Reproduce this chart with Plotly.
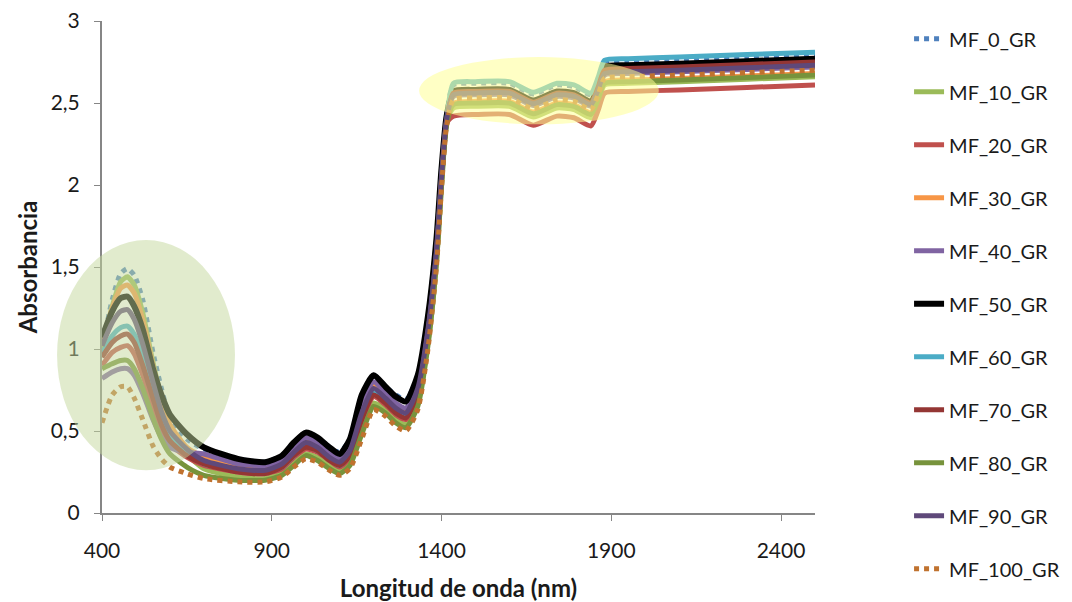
import plotly.graph_objects as go

wavelength = [400, 430, 455, 475, 495, 520, 550, 575, 600, 650, 700,
              800, 880, 930, 965, 1000, 1035, 1070, 1100, 1130, 1165, 1200, 1235, 1265, 1295, 1330, 1360, 1385, 1400, 1415,
              1435, 1500, 1600, 1670, 1740, 1790, 1840, 1862, 1880, 1950, 2100, 2300, 2500]

series_names = ["MF_0_GR", "MF_10_GR", "MF_20_GR", "MF_30_GR", "MF_40_GR", "MF_50_GR",
                "MF_60_GR", "MF_70_GR", "MF_80_GR", "MF_90_GR", "MF_100_GR"]

mf_0 = [1.00, 1.30, 1.46, 1.49, 1.45, 1.30, 0.98, 0.76, 0.58, 0.45, 0.39,
        0.33, 0.31, 0.35, 0.43, 0.49, 0.46, 0.40, 0.37, 0.45, 0.71, 0.84, 0.77, 0.72, 0.69, 0.83, 1.19, 1.66, 2.09, 2.42,
        2.61, 2.62, 2.62, 2.555, 2.61, 2.60, 2.55, 2.645, 2.74, 2.75, 2.76, 2.775, 2.79]
mf_10 = [1.00, 1.26, 1.41, 1.44, 1.39, 1.22, 0.92, 0.70, 0.52, 0.36, 0.27,
         0.22, 0.21, 0.25, 0.31, 0.36, 0.34, 0.29, 0.26, 0.31, 0.50, 0.67, 0.63, 0.57, 0.54, 0.67, 1.04, 1.53, 2.00, 2.37,
         2.47, 2.48, 2.48, 2.415, 2.47, 2.46, 2.41, 2.51, 2.61, 2.62, 2.63, 2.645, 2.66]
mf_20 = [0.90, 0.98, 1.01, 1.02, 0.97, 0.84, 0.65, 0.51, 0.42, 0.34, 0.29,
         0.25, 0.24, 0.27, 0.34, 0.39, 0.37, 0.32, 0.28, 0.34, 0.56, 0.71, 0.66, 0.60, 0.57, 0.71, 1.08, 1.57, 2.03, 2.38,
         2.42, 2.43, 2.43, 2.365, 2.42, 2.41, 2.36, 2.46, 2.56, 2.57, 2.58, 2.595, 2.61]
mf_30 = [1.02, 1.25, 1.37, 1.39, 1.34, 1.18, 0.90, 0.70, 0.54, 0.40, 0.34,
         0.29, 0.27, 0.31, 0.38, 0.44, 0.41, 0.36, 0.32, 0.40, 0.64, 0.78, 0.72, 0.66, 0.63, 0.78, 1.14, 1.62, 2.06, 2.40,
         2.50, 2.51, 2.51, 2.445, 2.50, 2.49, 2.44, 2.535, 2.63, 2.64, 2.65, 2.665, 2.68]
mf_40 = [0.82, 0.86, 0.88, 0.88, 0.84, 0.73, 0.57, 0.46, 0.40, 0.37, 0.36,
         0.30, 0.29, 0.32, 0.40, 0.46, 0.43, 0.37, 0.33, 0.41, 0.67, 0.80, 0.73, 0.67, 0.64, 0.80, 1.16, 1.64, 2.08, 2.41,
         2.54, 2.55, 2.55, 2.485, 2.54, 2.53, 2.48, 2.575, 2.67, 2.68, 2.69, 2.705, 2.72]
mf_50 = [1.07, 1.23, 1.31, 1.32, 1.26, 1.12, 0.88, 0.72, 0.60, 0.48, 0.40,
         0.33, 0.31, 0.35, 0.43, 0.49, 0.46, 0.40, 0.36, 0.45, 0.72, 0.84, 0.77, 0.71, 0.68, 0.84, 1.20, 1.67, 2.10, 2.42,
         2.57, 2.58, 2.58, 2.515, 2.57, 2.56, 2.51, 2.615, 2.72, 2.73, 2.74, 2.755, 2.77]
mf_60 = [0.97, 1.08, 1.13, 1.14, 1.09, 0.95, 0.73, 0.57, 0.46, 0.36, 0.30,
         0.26, 0.25, 0.28, 0.35, 0.41, 0.38, 0.33, 0.29, 0.36, 0.58, 0.73, 0.68, 0.62, 0.59, 0.73, 1.10, 1.58, 2.04, 2.39,
         2.62, 2.63, 2.63, 2.565, 2.62, 2.61, 2.56, 2.66, 2.76, 2.77, 2.78, 2.795, 2.81]
mf_70 = [0.95, 1.04, 1.08, 1.09, 1.04, 0.90, 0.70, 0.54, 0.44, 0.35, 0.30,
         0.25, 0.24, 0.28, 0.35, 0.40, 0.38, 0.32, 0.29, 0.35, 0.57, 0.72, 0.67, 0.61, 0.58, 0.72, 1.09, 1.58, 2.03, 2.39,
         2.56, 2.57, 2.57, 2.505, 2.56, 2.55, 2.50, 2.60, 2.70, 2.71, 2.72, 2.735, 2.75]
mf_80 = [0.88, 0.91, 0.93, 0.93, 0.88, 0.76, 0.58, 0.45, 0.36, 0.28, 0.23,
         0.20, 0.20, 0.23, 0.29, 0.35, 0.32, 0.27, 0.24, 0.29, 0.48, 0.65, 0.61, 0.55, 0.52, 0.65, 1.02, 1.52, 1.99, 2.37,
         2.49, 2.50, 2.50, 2.435, 2.49, 2.48, 2.43, 2.525, 2.62, 2.63, 2.64, 2.655, 2.67]
mf_90 = [1.02, 1.16, 1.23, 1.24, 1.18, 1.03, 0.80, 0.62, 0.50, 0.39, 0.32,
         0.27, 0.26, 0.30, 0.37, 0.43, 0.40, 0.34, 0.31, 0.38, 0.61, 0.76, 0.70, 0.64, 0.61, 0.76, 1.12, 1.60, 2.05, 2.40,
         2.55, 2.56, 2.56, 2.495, 2.55, 2.54, 2.49, 2.585, 2.68, 2.69, 2.70, 2.715, 2.73]
mf_100 = [0.55, 0.72, 0.77, 0.77, 0.70, 0.57, 0.41, 0.33, 0.28, 0.24, 0.21,
          0.19, 0.19, 0.22, 0.28, 0.33, 0.31, 0.26, 0.23, 0.27, 0.45, 0.63, 0.59, 0.53, 0.50, 0.63, 1.00, 1.50, 1.98, 2.36,
          2.52, 2.53, 2.53, 2.465, 2.52, 2.51, 2.46, 2.555, 2.65, 2.66, 2.67, 2.685, 2.70]

series_values = [mf_0, mf_10, mf_20, mf_30, mf_40, mf_50, mf_60, mf_70, mf_80, mf_90, mf_100]
colors = ["#4F81BD", "#9BBB59", "#C0504D", "#F79646", "#8064A2", "#000000",
          "#4BACC6", "#943634", "#77933C", "#5F497A", "#C0722F"]
dashes = ["dot", "solid", "solid", "solid", "solid", "solid",
          "solid", "solid", "solid", "solid", "dot"]
widths = [5, 5, 5, 5, 5, 6, 5, 5, 5, 5, 5]

FONT = "Lato, 'Open Sans', sans-serif"
TXT = "#1a1a1a"
AX = "#868686"

fig = go.Figure()
for name, vals, c, d, w in zip(series_names, series_values, colors, dashes, widths):
    fig.add_trace(go.Scatter(
        x=wavelength, y=vals, name=name, mode="lines",
        line=dict(color=c, width=w, dash=d, shape="spline", smoothing=0.6),
        legendgroup=name,
    ))

# highlight ellipses (drawn over the curves, semi-transparent)
fig.add_shape(type="circle", xref="paper", yref="paper",
              x0=-0.063, x1=0.1865, y0=0.087, y1=0.555,
              fillcolor="rgba(196,215,155,0.5)", line=dict(width=0), layer="above")
fig.add_shape(type="circle", xref="x", yref="y",
              x0=1334, x1=2040, y0=2.37, y1=2.78,
              fillcolor="rgba(255,255,150,0.55)", line=dict(width=0), layer="above")

fig.update_layout(
    width=1072, height=602,
    margin=dict(l=102, r=257, t=21, b=89, autoexpand=False),
    paper_bgcolor="white", plot_bgcolor="white",
    separators=",.",
    font=dict(family=FONT, color=TXT, size=20),
    showlegend=True,
    legend=dict(
        xref="container", yref="container",
        x=0.848, y=0.968, xanchor="left", yanchor="top",
        font=dict(family=FONT, size=20, color=TXT),
        tracegroupgap=24, bgcolor="rgba(0,0,0,0)", maxheight=602,
    ),
    xaxis=dict(
        range=[400, 2500], tick0=400, dtick=500, tickmode="linear",
        showgrid=False, zeroline=False, showline=True, linecolor=AX, linewidth=2,
        ticks="outside", ticklen=6, tickcolor=AX, tickwidth=1,
        tickfont=dict(family=FONT, size=21, color=TXT), ticklabelstandoff=12,
        title=dict(text="<b>Longitud de onda (nm)</b>", font=dict(family=FONT, size=24, color=TXT), standoff=19),
    ),
    yaxis=dict(
        range=[0, 3], tick0=0, dtick=0.5, tickmode="linear",
        showgrid=False, zeroline=False, showline=True, linecolor=AX, linewidth=2,
        ticks="outside", ticklen=6, tickcolor=AX, tickwidth=1,
        tickfont=dict(family=FONT, size=21, color=TXT), ticklabelstandoff=10,
        title=dict(text="<b>Absorbancia</b>", font=dict(family=FONT, size=24, color=TXT), standoff=6),
    ),
)

fig.write_html("out.html")
